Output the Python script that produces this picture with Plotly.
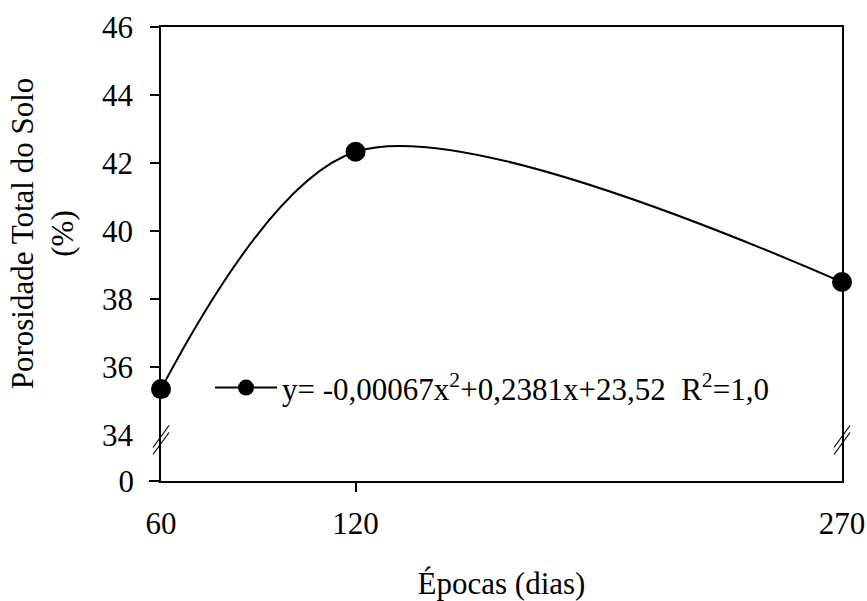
import plotly.graph_objects as go

# Soil total porosity (%) at each sampling time (days)
epocas = [60, 120, 270]
porosidade = [35.35, 42.33, 38.50]

x_ticks = [60, 120, 270]
y_ticks_upper = [34, 36, 38, 40, 42, 44, 46]
y_ticks_lower = [0]

equacao = "y= -0,00067x<sup>2</sup>+0,2381x+23,52\u00a0\u00a0R<sup>2</sup>=1,0"

FONT = "Times New Roman, Liberation Serif, serif"
BLACK = "#000000"

W, H = 867, 601
M_L, M_R, M_T, M_B = 161, 25, 27, 120
plot_h = H - M_T - M_B
brk = 41 / plot_h          # fraction of plot height below the axis break
y_top = 46
# upper segment: 2 % per 68 px
y_bot = y_top - (plot_h * (1 - brk)) / 34.0

fig = go.Figure()

fig.add_trace(go.Scatter(
    x=epocas, y=porosidade,
    mode="lines+markers",
    line=dict(color=BLACK, width=2, shape="spline", smoothing=0.9),
    marker=dict(color=BLACK, size=20, symbol="circle"),
    cliponaxis=False,
    name=equacao,
    showlegend=True,
    xaxis="x", yaxis="y",
))

axis_line = dict(showline=True, linecolor=BLACK, linewidth=1.5,
                 showgrid=False, zeroline=False)
tick_font = dict(family=FONT, size=31, color=BLACK)

fig.update_layout(
    template="none",
    width=W, height=H,
    margin=dict(l=M_L, r=M_R, t=M_T, b=M_B),
    paper_bgcolor="white", plot_bgcolor="white",
    font=dict(family=FONT, color=BLACK, size=31),
    showlegend=True,
    legend=dict(
        x=0.072, y=0.205, xanchor="left", yanchor="middle",
        bgcolor="rgba(0,0,0,0)", borderwidth=0,
        font=dict(family=FONT, size=31, color=BLACK),
        itemwidth=62,
    ),
    # bottom x axis (labels), attached to the lower y segment
    xaxis=dict(
        **axis_line, range=[60, 270], anchor="y2",
        tickmode="array", tickvals=x_ticks,
        ticktext=[str(v) for v in x_ticks],
        ticks="", tickfont=tick_font, ticklabelstandoff=14,
        title=dict(text="Épocas (dias)", standoff=37,
                   font=dict(family=FONT, size=31, color=BLACK)),
    ),
    # top frame line
    xaxis2=dict(
        **axis_line, range=[60, 270], anchor="y", side="top",
        overlaying="x", ticks="", showticklabels=False,
    ),
    # bottom tick mark at 120 days
    xaxis3=dict(
        showline=False, showgrid=False, zeroline=False,
        range=[60, 270], anchor="y2", overlaying="x",
        tickmode="array", tickvals=[120], ticks="outside",
        ticklen=10, tickwidth=1.5, tickcolor=BLACK,
        showticklabels=False,
    ),
    # upper y segment (34 - 46)
    yaxis=dict(
        **axis_line, mirror=True, range=[y_bot, y_top],
        domain=[brk, 1], anchor="x",
        tickmode="array", tickvals=y_ticks_upper,
        ticks="", tickfont=tick_font, ticklabelstandoff=20,
        title=dict(text="Porosidade Total do Solo<br>(%)", standoff=19,
                   font=dict(family=FONT, size=31, color=BLACK)),
    ),
    # lower y segment (0)
    yaxis2=dict(
        **axis_line, mirror=True, range=[0, 1],
        domain=[0, brk], anchor="x",
        tickmode="array", tickvals=y_ticks_lower,
        ticks="outside", ticklen=10, tickwidth=1.5, tickcolor=BLACK,
        tickfont=tick_font, ticklabelstandoff=9,
    ),
    # tick marks for 36 - 46 on the upper segment
    yaxis3=dict(
        showline=False, showgrid=False, zeroline=False,
        range=[y_bot, y_top], domain=[brk, 1], anchor="x",
        overlaying="y",
        tickmode="array", tickvals=y_ticks_upper[1:], ticks="outside",
        ticklen=10, tickwidth=1.5, tickcolor=BLACK,
        showticklabels=False,
    ),
)

# keep the helper axes visible by giving them an empty trace each
fig.add_trace(go.Scatter(x=[], y=[], xaxis="x2", yaxis="y", showlegend=False))
fig.add_trace(go.Scatter(x=[], y=[], xaxis="x3", yaxis="y2", showlegend=False))
fig.add_trace(go.Scatter(x=[], y=[], xaxis="x", yaxis="y3", showlegend=False))
fig.add_trace(go.Scatter(x=[], y=[], xaxis="x", yaxis="y2", showlegend=False))

# axis-break marks on the left and right frame lines
for xpos in (0, 1):
    for off in (-3.5, 3.5):
        fig.add_shape(
            type="line", xref="x domain", yref="paper",
            xsizemode="pixel", ysizemode="pixel",
            xanchor=xpos, yanchor=brk,
            x0=-8, x1=8, y0=-11 + off, y1=11 + off,
            line=dict(color=BLACK, width=1.2),
        )

fig.write_html("out.html")
